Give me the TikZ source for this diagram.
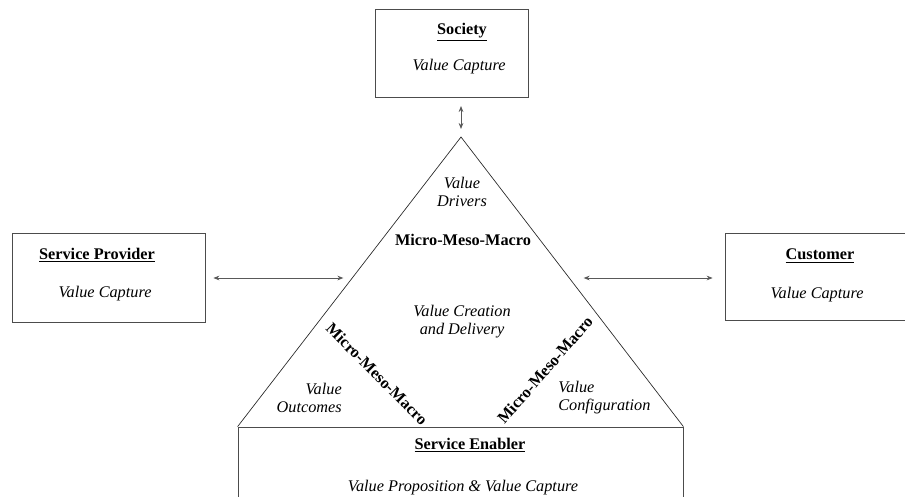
\documentclass[tikz,border=0pt]{standalone}
\usepackage{fontspec}
\setmainfont{Liberation Serif}
\usetikzlibrary{arrows.meta}
\begin{document}
\begin{tikzpicture}[x=0.75pt,y=-0.75pt,
  every node/.style={font=\fontsize{12.2}{14.6}\selectfont, inner sep=0pt},
  box/.style={draw=black!70, line width=0.6pt, rectangle},
  ttl/.style={font=\fontsize{12.2}{14.6}\selectfont\bfseries},
  itl/.style={font=\fontsize{12.2}{14.6}\selectfont\itshape, align=center},
  mmm/.style={font=\fontsize{12.2}{14.6}\selectfont\bfseries},
  link/.style={draw=black!65, line width=0.6pt, {Stealth[length=4.5pt,width=3.5pt]}-{Stealth[length=4.5pt,width=3.5pt]}},
  tri/.style={draw=black!85, line width=0.5pt}]
\useasboundingbox (0,0) rectangle (905,496);
\fill[white] (0,0) rectangle (905,496);

% boxes
\node[box, minimum width=114.75pt, minimum height=66pt] (soc) at (451.5,53) {};
\node[box, minimum width=144.75pt, minimum height=66.75pt] (sp) at (108.5,277.5) {};
\node[box, minimum width=142.5pt, minimum height=65.25pt] (cu) at (820,276.5) {};
\node[box, minimum width=333.75pt, minimum height=62.25pt] (en) at (460.5,468.5) {};

% box texts
\node[ttl] (socT) at (462,32) {\underline{Society}};
\node[itl] (socV) at (459,67) {Value Capture};
\node[ttl] (spT) at (97,255) {\underline{Service Provider}};
\node[itl] (spV) at (105,294) {Value Capture};
\node[ttl] (cuT) at (820,256) {\underline{Customer}};
\node[itl] (cuV) at (817,295) {Value Capture};
\node[ttl] (enT) at (470,445) {\underline{Service Enabler}};
\node[itl] (enV) at (463,488) {Value Proposition \& Value Capture};

% triangle
\coordinate (apex) at (461,137);
\draw[tri] (en.north west) -- (apex) -- (en.north east);
\coordinate (tl) at (354,278);
\coordinate (tr) at (569,278);
\coordinate (ta) at (461,129);
\coordinate (sa) at (461,106);

% connectors
\draw[link] (sa) -- (ta);
\draw[link, shorten <=6pt, shorten >=8pt] (sp.east |- tl) -- (tl);
\draw[link, shorten <=11pt, shorten >=9pt] (tr) -- (cu.west |- tr);

% triangle texts
\node[itl] (drv) at (462,192) {Value\\[-1pt]Drivers};
\node[mmm] (mmTop) at (463,240) {Micro-Meso-Macro};
\node[itl] (cre) at (462,322) {Value Creation\\[-1pt]and Delivery};
\node[itl, align=right, anchor=east] (out) at (342,398) {Value\\[-1pt]Outcomes};
\node[itl, align=left, anchor=west] (cfg) at (558,398) {Value\\[-1pt]Configuration};
\node[mmm, rotate=-45] (mmL) at (377,374) {Micro-Meso-Macro};
\node[mmm, rotate=49] (mmR) at (545,370) {Micro-Meso-Macro};
\end{tikzpicture}
\end{document}
